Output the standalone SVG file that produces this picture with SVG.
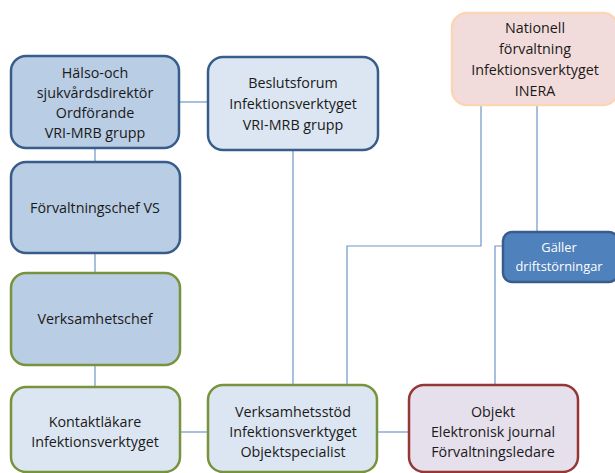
<svg xmlns="http://www.w3.org/2000/svg" width="615" height="473" viewBox="0 0 615 473">
<style>
text{font-family:"Open Sans","Liberation Sans",Arial,sans-serif;font-size:14.3px;fill:#1a1a1a;text-anchor:middle}
.box{stroke-width:2.5}
.blue{fill:#B9CDE5;stroke:#385D8A}
.light{fill:#DCE6F2;stroke:#385D8A}
.greenM{fill:#B9CDE5;stroke:#77933C}
.greenL{fill:#DCE6F2;stroke:#77933C}
.red{fill:#E6E0EC;stroke:#953735}
.pink{fill:#F2DCDB;stroke:#FBD5B5}
.dark{fill:#4F81BD;stroke:#385D8A}
.w{fill:#fff;font-size:12.8px}
#connectors path{fill:none;stroke:#6E95C8;stroke-width:1.2}
</style>
<rect width="615" height="473" fill="#fff"/>
<g id="connectors">
<path d="M180,102H208"/>
<path d="M95,148V162"/>
<path d="M95,253V273"/>
<path d="M95,365V387"/>
<path d="M180,432H208"/>
<path d="M293,150V385"/>
<path d="M481,105V246H347V385"/>
<path d="M537,105V232"/>
<path d="M503,246H495V385"/>
<path d="M377,432H409"/>
</g>
<g id="n1"><rect class="box blue" x="11" y="56" width="168" height="92" rx="15"/>
<text x="95" y="78">Hälso-och</text><text x="95" y="98">sjukvårdsdirektör</text><text x="95" y="118">Ordförande</text><text x="95" y="138">VRI-MRB grupp</text></g>
<g id="n2"><rect class="box blue" x="11" y="162" width="169" height="91" rx="15"/>
<text x="95" y="213">Förvaltningschef VS</text></g>
<g id="n3"><rect class="box greenM" x="11" y="273" width="169" height="92" rx="15"/>
<text x="95" y="324">Verksamhetschef</text></g>
<g id="n4"><rect class="box greenL" x="11" y="387" width="169" height="85" rx="15"/>
<text x="95" y="427">Kontaktläkare</text><text x="95" y="447">Infektionsverktyget</text></g>
<g id="n5"><rect class="box light" x="208" y="57" width="170" height="93" rx="15"/>
<text x="293" y="88">Beslutsforum</text><text x="293" y="109">Infektionsverktyget</text><text x="293" y="130">VRI-MRB grupp</text></g>
<g id="n6"><rect class="box greenL" x="208" y="385" width="169" height="87" rx="15"/>
<text x="293" y="417">Verksamhetsstöd</text><text x="293" y="437">Infektionsverktyget</text><text x="293" y="457">Objektspecialist</text></g>
<g id="n7"><rect class="box red" x="409" y="385" width="169" height="87" rx="15"/>
<text x="493" y="417">Objekt</text><text x="493" y="437">Elektronisk journal</text><text x="493" y="457">Förvaltningsledare</text></g>
<g id="n8"><rect class="box pink" x="452" y="13" width="166" height="92" rx="15"/>
<text x="535" y="33">Nationell</text><text x="535" y="54">förvaltning</text><text x="535" y="75">Infektionsverktyget</text><text x="535" y="96">INERA</text></g>
<g id="n9"><rect class="box dark" x="503" y="232" width="115" height="50" rx="9"/>
<text class="w" x="559" y="252">Gäller</text><text class="w" x="559" y="271">driftstörningar</text></g>
</svg>
